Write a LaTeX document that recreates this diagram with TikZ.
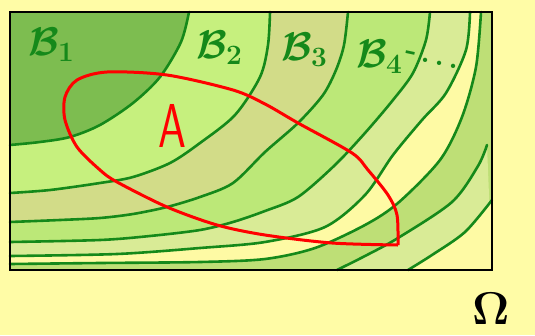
\RequirePackage{fix-cm}
\documentclass[tikz,border=0pt]{standalone}
\usepackage{amsmath,amssymb}
\usepackage{xcolor}
\definecolor{bgyel}{HTML}{FFFCA6}
\definecolor{setone}{HTML}{7DBD50}
\definecolor{bandtwo}{HTML}{C6F07E}
\definecolor{bandthree}{HTML}{D2DC88}
\definecolor{bandfour}{HTML}{BCE878}
\definecolor{bandfive}{HTML}{D9EB96}
\definecolor{bandsix}{HTML}{FEFAA4}
\definecolor{bandseven}{HTML}{BEDF76}
\definecolor{levelgreen}{HTML}{15891A}
\definecolor{setred}{HTML}{FF0000}
\usetikzlibrary{positioning}

% level curves, in pixel units
\def\curveone{plot[smooth] coordinates {(189,12) (181,42) (160,77) (133,103) (100,125) (70,137) (40,142) (10,145)}}
\def\curvetwo{plot[smooth] coordinates {(270,12) (268,45) (260,77) (235,115) (200,143) (170,163) (133,177) (100,183) (50,190) (10,193)}}
\def\curvethree{plot[smooth] coordinates {(348,12) (344,45) (336,70) (323,95) (298,123) (265,152) (233,183) (200,197) (167,207) (133,214) (100,218) (60,220) (10,222)}}
\def\curvefour{plot[smooth] coordinates {(430,12) (426,40) (413,73) (393,100) (365,133) (335,165) (298,197) (265,211) (233,222) (200,230) (150,236) (100,240) (10,242)}}
\def\curvefive{plot[smooth] coordinates {(470,12) (466,50) (446,93) (422,120) (393,155) (365,195) (325,227) (265,242) (200,248) (117,254) (10,256)}}
\def\curvesix{plot[smooth] coordinates {(481,12) (476,67) (462,117) (440,160) (398,203) (365,225) (315,248) (265,259) (200,262) (100,263) (10,264)}}
\def\curveseven{plot[smooth] coordinates {(487,145) (478,166) (452,202) (398,238) (365,256) (337,270)}}
\def\curveeight{plot[smooth] coordinates {(492,200) (465,232) (432,255) (408,270)}}

\tikzset{
  level/.style={draw=levelgreen,line width=2.6pt,line cap=round},
  setlabel/.style={text=levelgreen,inner sep=0pt,anchor=base west,font=\fontsize{40}{40}\selectfont\boldmath},
}

\begin{document}
\begin{tikzpicture}[x=1pt,y=-1pt]
\useasboundingbox (0,0) rectangle (535,335);
\fill[bgyel] (0,0) rectangle (535,335);

% bands, from the outside in
\fill[bandsix] (10,12) rectangle (492,270);
\fill[bandseven] \curvesix -- (10,270) -- (492,270) -- (492,12) -- cycle;
\fill[bandfive] \curveseven -- (492,270) -- cycle;
\fill[bandsix] \curveeight -- (492,270) -- cycle;
\fill[bandfive] \curvefive -- (10,12) -- cycle;
\fill[bandfour] \curvefour -- (10,12) -- cycle;
\fill[bandthree] \curvethree -- (10,12) -- cycle;
\fill[bandtwo] \curvetwo -- (10,12) -- cycle;
\fill[setone] \curveone -- (10,12) -- cycle;

\foreach \c in {\curveone,\curvetwo,\curvethree,\curvefour,\curvefive,\curvesix,\curveseven,\curveeight}
  \draw[level] \c;

% the set A
\draw[setred,line width=3pt,line join=round] plot[smooth] coordinates {(398,245) (397,215) (388,195) (368,170) (352,153) (298,123) (265,104) (233,90) (167,75) (107,72) (77,80) (65,97) (65,120) (77,147) (100,170) (117,182) (167,207) (217,225) (265,235) (332,243) (398,245)};

\draw[line width=2.6pt] (10,12) rectangle (492,270);

% labels
\node[setlabel] (bone) at (28,55) {$\mathcal{B}_1$};
\node[setlabel] (btwo) at (196,58) {$\mathcal{B}_2$};
\node[setlabel] (bthree) at (281,60) {$\mathcal{B}_3$};
\node[setlabel] (bfour) at (356,67) {$\mathcal{B}_4$};
\node[text=levelgreen,inner sep=0pt,anchor=base west,rotate=-12,font=\bfseries\fontsize{30}{30}\selectfont] (bdots) at (404,58) {-\,.\,.\,.};
\node[text=setred,inner sep=0pt,anchor=base west,xscale=0.72,transform shape,font=\sffamily\fontsize{62}{62}\selectfont] (seta) at (158,147) {A};
\node[inner sep=0pt,anchor=base west,font=\fontsize{46}{46}\selectfont\boldmath] (omega) at (472,324) {$\Omega$};
\end{tikzpicture}
\end{document}
